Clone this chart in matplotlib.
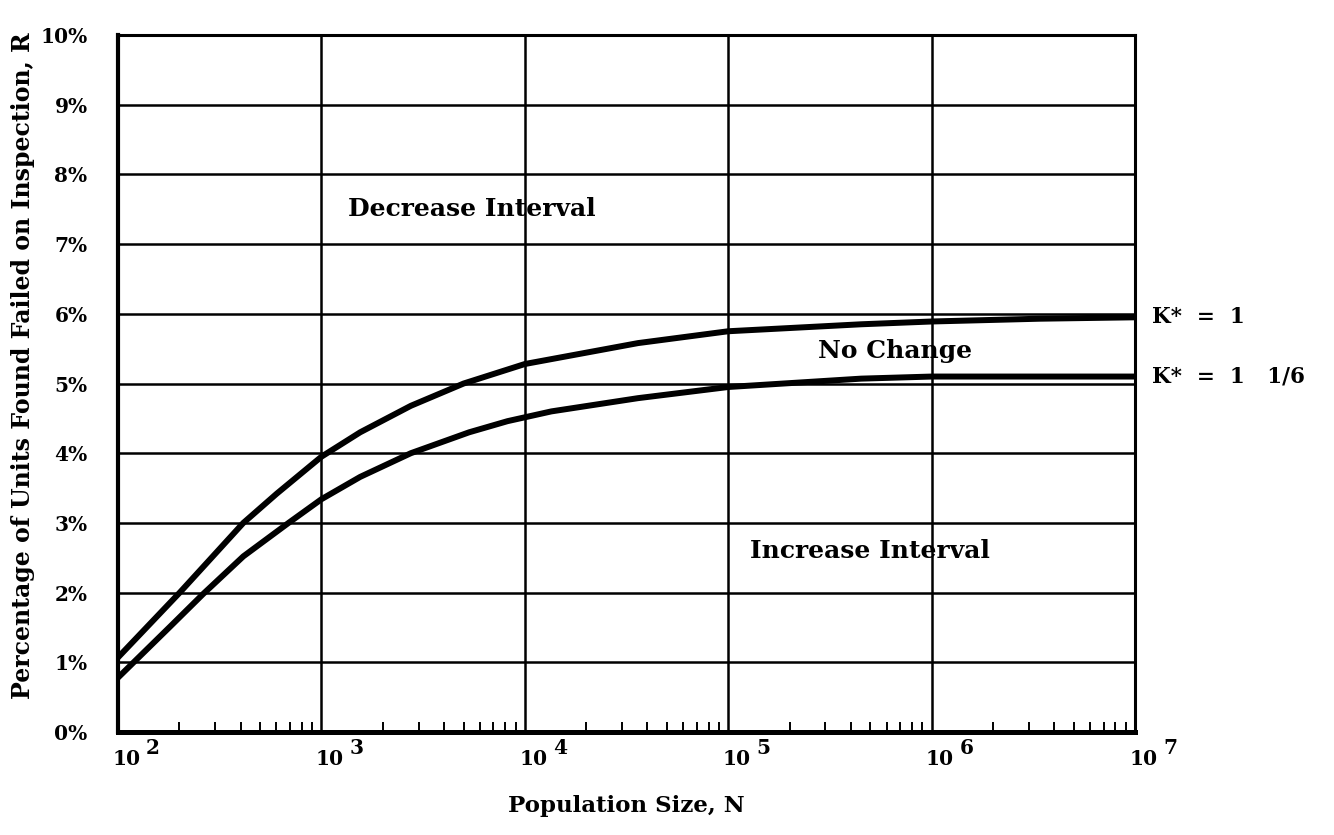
import numpy as np
import matplotlib
matplotlib.use("Agg")
import matplotlib.pyplot as plt
from matplotlib.ticker import LogLocator, NullFormatter, FixedLocator
from matplotlib.transforms import offset_copy, blended_transform_factory

plt.rcParams['font.family'] = ['DejaVu Serif']
plt.rcParams['font.weight'] = 'bold'

# values
n_upper = [100, 201, 282, 413, 603, 1000, 1550, 2750, 5000, 1e4, 3.6e4, 1e5, 4.5e5, 1e6, 3.4e6, 1e7]
k_one = [1.07, 2.00, 2.47, 3.00, 3.42, 3.95, 4.30, 4.68, 5.00, 5.28, 5.58, 5.75, 5.85, 5.89, 5.93, 5.95]
n_lower = [100, 180, 262, 413, 689, 1000, 1550, 2750, 5320, 8220, 1.35e4, 3.6e4, 1e5, 4.5e5, 1e6, 3.4e6, 1e7]
k_one_sixth = [0.78, 1.51, 1.98, 2.52, 3.00, 3.34, 3.66, 4.00, 4.30, 4.46, 4.60, 4.79, 4.95, 5.07, 5.10, 5.10, 5.10]
decades = [1e2, 1e3, 1e4, 1e5, 1e6, 1e7]
exponents = ['2', '3', '4', '5', '6', '7']
pct_ticks = list(range(0, 11))
curve_labels = ['K*  =  1', 'K*  =  1   1/6']

fig = plt.figure(figsize=(13.34, 8.35), dpi=100)
ax = fig.add_axes([0.0885, 0.1234, 0.7624, 0.8346])

ax.plot(n_upper, k_one, color='black', lw=4.3, solid_joinstyle='round', zorder=3)
ax.plot(n_lower, k_one_sixth, color='black', lw=4.3, solid_joinstyle='round', zorder=3)

ax.set_xscale('log')
ax.set_xlim(1e2, 1e7)
ax.set_ylim(0, 10)

ax.xaxis.set_major_locator(FixedLocator(decades))
ax.xaxis.set_minor_locator(LogLocator(base=10, subs=np.arange(2, 10)))
ax.xaxis.set_minor_formatter(NullFormatter())
ax.set_xticklabels([])
ax.set_yticks(pct_ticks)
ax.set_yticklabels([f'{p}%' for p in pct_ticks], fontsize=14.5, fontweight='bold')
ax.tick_params(axis='y', length=0, pad=22)
ax.tick_params(axis='x', which='major', length=0)
ax.tick_params(axis='x', which='minor', direction='in', length=7, width=1.4, top=False)

ax.grid(True, which='major', color='black', lw=1.8)
ax.set_axisbelow(True)
for side, w in [('left', 3.0), ('bottom', 3.6), ('right', 2.2), ('top', 2.2)]:
    ax.spines[side].set_linewidth(w)
    ax.spines[side].set_color('black')

# decade labels "10" with raised exponent
xb = blended_transform_factory(ax.transData, ax.transAxes)
base_tr = offset_copy(xb, fig=fig, x=6, y=-12, units='points')
exp_tr = offset_copy(xb, fig=fig, x=20, y=-4, units='points')
for d, e in zip(decades, exponents):
    ax.text(d, 0, '10', transform=base_tr, ha='center', va='top',
            fontsize=14.5, fontweight='bold')
    ax.text(d, 0, e, transform=exp_tr, ha='left', va='top',
            fontsize=14.5, fontweight='bold')

ax.set_xlabel('Population Size, N', fontsize=16.5, fontweight='bold', labelpad=42)
ax.set_ylabel('Percentage of Units Found Failed on Inspection, R',
              fontsize=17, fontweight='bold')
ax.yaxis.set_label_coords(-0.082, 0.525)

ax.text(1.35e3, 7.5, 'Decrease Interval', fontsize=18, fontweight='bold', va='center')
ax.text(2.75e5, 5.47, 'No Change', fontsize=18, fontweight='bold', va='center')
ax.text(1.28e5, 2.6, 'Increase Interval', fontsize=18, fontweight='bold', va='center')

yb = blended_transform_factory(ax.transAxes, ax.transData)
ax.text(1.017, k_one[-1], curve_labels[0], transform=yb, fontsize=15.5,
        fontweight='bold', va='center', ha='left')
ax.text(1.017, k_one_sixth[-1], curve_labels[1], transform=yb, fontsize=15.5,
        fontweight='bold', va='center', ha='left')

fig.savefig('out.png', dpi=100)
